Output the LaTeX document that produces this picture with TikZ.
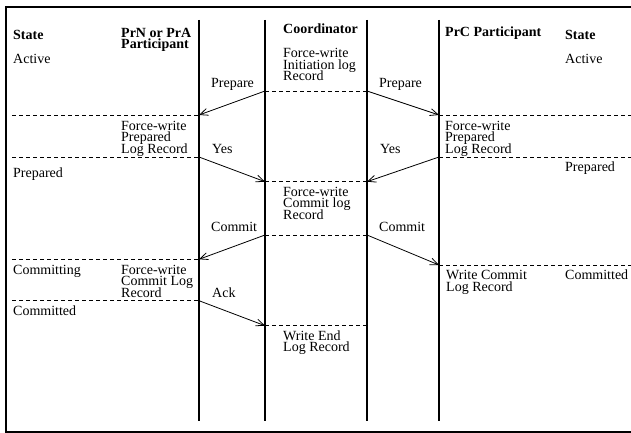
\documentclass[tikz,border=0pt]{standalone}
\usepackage{fontspec}
\setmainfont{Liberation Serif}
\usetikzlibrary{arrows.meta}
\newcommand\mytightlines{\fontsize{14}{11.6}\selectfont\lineskiplimit=-20pt\relax\lineskip=0pt\relax}
\begin{document}
\begin{tikzpicture}[x=1pt,y=-1pt,
  lbl/.style={anchor=base west,inner sep=0pt,align=left,font=\mytightlines},
  hdr/.style={lbl,font=\mytightlines\bfseries},
  life/.style={line width=2.4pt},
  sepline/.style={dash pattern=on 4pt off 3pt, line width=0.8pt},
  msg/.style={-{Straight Barb[length=8pt,width=7pt]}, line width=0.8pt},
  frame/.style={line width=2pt}]
\useasboundingbox (0,0) rectangle (631,433);
% frame
\draw[frame] (640,7) -- (6,7) -- (6,431.5) -- (640,431.5);
% lifelines
\coordinate (n1) at (199,20); \coordinate (n2) at (199,421);
\coordinate (c1) at (265,20); \coordinate (c2) at (265,421);
\coordinate (d1) at (367,20); \coordinate (d2) at (367,421);
\coordinate (r1) at (439,20); \coordinate (r2) at (439,421);
\draw[life] (n1) -- (n2);
\draw[life] (c1) -- (c2);
\draw[life] (d1) -- (d2);
\draw[life] (r1) -- (r2);
% event points
\coordinate (cA) at (265,91);   \coordinate (dA) at (367,91);
\coordinate (nA) at (199,115);  \coordinate (rA) at (439,115);
\coordinate (nB) at (199,157);  \coordinate (rB) at (439,157);
\coordinate (cB) at (265,181.7);\coordinate (dB) at (367,181.7);
\coordinate (cC) at (265,235);  \coordinate (dC) at (367,235);
\coordinate (nC) at (199,259.3);\coordinate (rC) at (439,265);
\coordinate (nD) at (199,300.7);
\coordinate (cD) at (265,325.7);\coordinate (dD) at (367,325.7);
% left ends / right ends of separators
\coordinate (lA) at (12,115);   \coordinate (eA) at (631,115);
\coordinate (lB) at (12,157);   \coordinate (eB) at (631,157);
\coordinate (lC) at (12,259.3); \coordinate (eC) at (631,265);
\coordinate (lD) at (12,300.7);
% dashed separators
\draw[sepline] (cA) -- (dA);
\draw[sepline] (lA) -- (nA);
\draw[sepline] (rA) -- (eA);
\draw[sepline] (lB) -- (nB);
\draw[sepline] (rB) -- (eB);
\draw[sepline] (cB) -- (dB);
\draw[sepline] (cC) -- (dC);
\draw[sepline] (lC) -- (nC);
\draw[sepline] (rC) -- (eC);
\draw[sepline] (lD) -- (nD);
\draw[sepline] (cD) -- (dD);
% messages
\draw[msg] (cA) -- (nA);
\draw[msg] (dA) -- (rA);
\draw[msg] (nB) -- (cB);
\draw[msg] (rB) -- (dB);
\draw[msg] (cC) -- (nC);
\draw[msg] (dC) -- (rC);
\draw[msg] (nD) -- (cD);
% headers (multi-line nodes: base = last line's baseline)
\node[hdr] (hs1) at (13,40) {State};
\node[hdr] (hp1) at (121,48.9) {PrN or PrA\\Participant};
\node[hdr] (hc) at (283,34) {Coordinator};
\node[hdr] (hp2) at (445,36.7) {PrC Participant};
\node[hdr] (hs2) at (565,40) {State};
% left labels
\node[lbl] (act1) at (13,64) {Active};
\node[lbl] (prep1) at (13,177.3) {Prepared};
\node[lbl] (cing) at (13,274) {Committing};
\node[lbl] (ced1) at (13,315) {Committed};
\node[lbl] (fw1) at (121,153.2) {Force-write\\Prepared\\Log Record};
\node[lbl] (fw2) at (121,297.2) {Force-write\\Commit Log\\Record};
% message labels
\node[lbl] (m1) at (211,87.3) {Prepare};
\node[lbl] (m2) at (379,87.3) {Prepare};
\node[lbl] (m3) at (212,153.3) {Yes};
\node[lbl] (m4) at (380,153.3) {Yes};
\node[lbl] (m5) at (211,231.7) {Commit};
\node[lbl] (m6) at (379,231.7) {Commit};
\node[lbl] (m7) at (212,297.3) {Ack};
% coordinator labels
\node[lbl] (cw1) at (283,80.7) {Force-write\\Initiation log\\Record};
\node[lbl] (cw2) at (283,219.2) {Force-write\\Commit log\\Record};
\node[lbl] (cw3) at (283,351.6) {Write End\\Log Record};
% right labels
\node[lbl] (act2) at (565,64) {Active};
\node[lbl] (fw3) at (445,153.2) {Force-write\\Prepared\\Log Record};
\node[lbl] (prep2) at (565,171.7) {Prepared};
\node[lbl] (wc) at (446,291) {Write Commit\\Log Record};
\node[lbl] (ced2) at (565,279.3) {Committed};
\end{tikzpicture}
\end{document}
